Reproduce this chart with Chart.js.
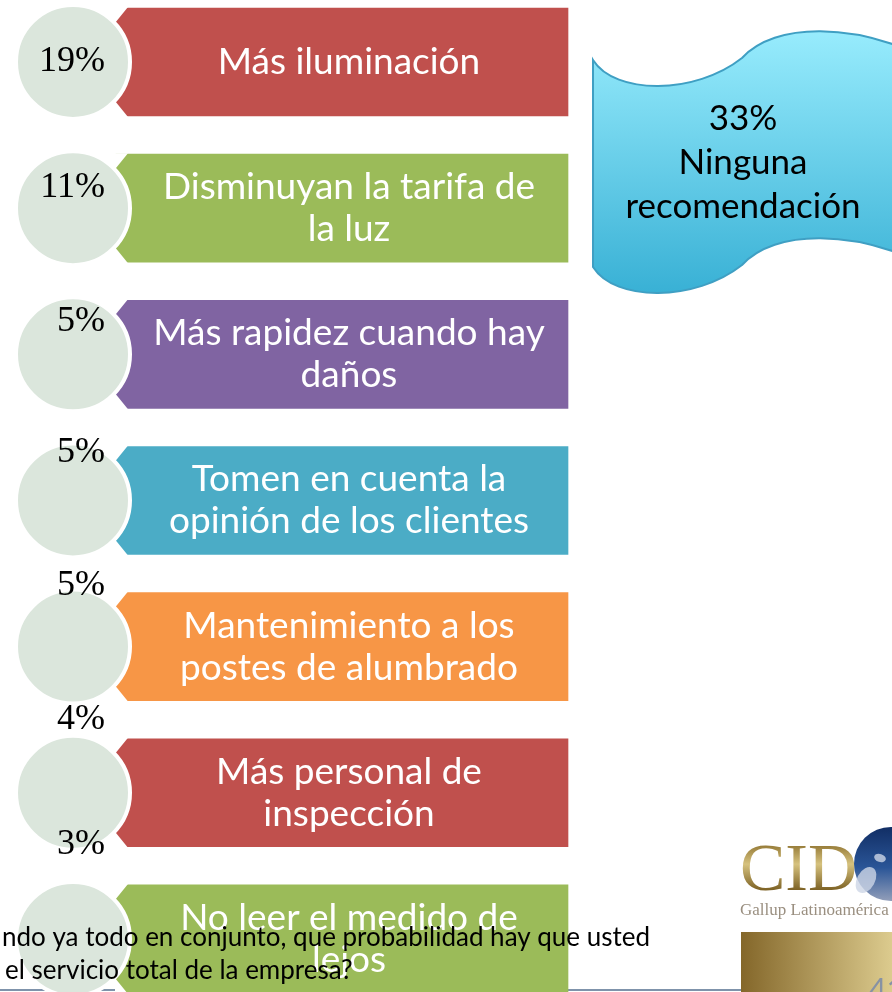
<!DOCTYPE html>
<html>
<head>
<meta charset="utf-8">
<script src="https://cdn.jsdelivr.net/npm/chart.js@4.4.0/dist/chart.umd.min.js"></script>
<style>
  html, body { margin: 0; padding: 0; background: #fff; }
  canvas { display: block; }
</style>
</head>
<body>
<canvas id="recomendaciones" width="892" height="992"></canvas>
<script>
// datos de la lámina
var recomendaciones = [
    ["Más iluminación"],
    ["Disminuyan la tarifa de", "la luz"],
    ["Más rapidez cuando hay", "daños"],
    ["Tomen en cuenta la", "opinión de los clientes"],
    ["Mantenimiento a los", "postes de alumbrado"],
    ["Más personal de", "inspección"],
    ["No leer el medido de", "lejos"]
];
var porcentajes = [19, 11, 5, 5, 5, 4, 3];
var ningunaPorcentaje = 33;
var ningunaTexto = ["Ninguna", "recomendación"];
var pregunta = ["ndo ya todo en conjunto, que probabilidad hay que usted", "el servicio total de la empresa?"];
var pagina = "41";

// colores y medidas (no son datos)
var colores = ["#c0504d", "#9bbb59", "#8064a2", "#4bacc6", "#f79646", "#c0504d", "#9bbb59"];
var desplazamientoEtiqueta = [0, -21, -33, -48, -61, -73, -94];
var bannerDesde = 116, bannerHasta = 568, circuloX = 73, textoX = 349;

function olaPath(ctx) {
    ctx.beginPath();
    ctx.moveTo(593, 60);
    ctx.bezierCurveTo(615, 95, 695, 95, 742, 58);
    ctx.bezierCurveTo(775, 22, 855, 22, 930, 60);
    ctx.lineTo(930, 267);
    ctx.bezierCurveTo(855, 229, 775, 229, 742, 265);
    ctx.bezierCurveTo(695, 302, 615, 302, 593, 267);
    ctx.closePath();
}

var decoracion = {
    id: 'decoracion',
    beforeDatasetsDraw: function (chart) {
        var ctx = chart.ctx;
        ctx.save();
        // linea inferior de la lamina
        ctx.strokeStyle = '#7f93ab';
        ctx.lineWidth = 2;
        ctx.beginPath();
        ctx.moveTo(0, 990);
        ctx.lineTo(892, 990);
        ctx.stroke();

        // cartel "ninguna recomendacion"
        var g = ctx.createLinearGradient(0, 30, 0, 300);
        g.addColorStop(0, '#98ecfd');
        g.addColorStop(1, '#36afd4');
        olaPath(ctx);
        ctx.fillStyle = g;
        ctx.fill();
        ctx.strokeStyle = '#3f9fc3';
        ctx.lineWidth = 2;
        ctx.stroke();

        // logo CID
        var oro = ctx.createLinearGradient(0, 843, 0, 890);
        oro.addColorStop(0, '#8f7330');
        oro.addColorStop(0.45, '#d6c27e');
        oro.addColorStop(1, '#7d6225');
        ctx.fillStyle = oro;
        ctx.font = '68px "Liberation Serif"';
        ctx.textBaseline = 'alphabetic';
        ctx.textAlign = 'left';
        ctx.fillText('CID', 740, 890);

        var globo = ctx.createLinearGradient(0, 828, 0, 900);
        globo.addColorStop(0, '#122f66');
        globo.addColorStop(0.55, '#2a5597');
        globo.addColorStop(1, '#8f9cb8');
        ctx.fillStyle = globo;
        ctx.beginPath();
        ctx.arc(891, 864, 37, 0, Math.PI * 2);
        ctx.fill();
        ctx.fillStyle = 'rgba(205,214,230,0.8)';
        ctx.beginPath();
        ctx.ellipse(866, 880, 9, 14, 0.5, 0, Math.PI * 2);
        ctx.fill();
        ctx.beginPath();
        ctx.ellipse(880, 858, 6, 4, 0.3, 0, Math.PI * 2);
        ctx.fill();

        ctx.fillStyle = '#9a8f80';
        ctx.font = '17px "Liberation Serif"';
        ctx.fillText('Gallup Latinoamérica', 740, 915);

        var caja = ctx.createLinearGradient(741, 0, 892, 0);
        caja.addColorStop(0, '#84672a');
        caja.addColorStop(1, '#dccb8e');
        ctx.fillStyle = caja;
        ctx.fillRect(741, 932, 151, 60);
        ctx.fillStyle = '#8792a4';
        ctx.font = '30px Lato';
        ctx.fillText(pagina, 869, 1000);
        ctx.restore();
    },
    afterDatasetsDraw: function (chart) {
        var ctx = chart.ctx;
        var xs = chart.scales.x, ys = chart.scales.y;
        ctx.save();

        // esquinas biseladas de los banners
        ctx.fillStyle = '#ffffff';
        chart.getDatasetMeta(1).data.forEach(function (bar) {
            var top = bar.y - bar.height / 2, bottom = bar.y + bar.height / 2, left = bar.base;
            ctx.beginPath();
            ctx.moveTo(left - 1, top - 1);
            ctx.lineTo(left + 12, top - 1);
            ctx.lineTo(left - 1, top + 15);
            ctx.closePath();
            ctx.fill();
            ctx.beginPath();
            ctx.moveTo(left - 1, bottom + 1);
            ctx.lineTo(left + 12, bottom + 1);
            ctx.lineTo(left - 1, bottom - 15);
            ctx.closePath();
            ctx.fill();
        });

        // textos de los banners
        ctx.fillStyle = '#ffffff';
        ctx.font = '37px Lato';
        ctx.textAlign = 'center';
        ctx.textBaseline = 'middle';
        recomendaciones.forEach(function (lineas, i) {
            var cy = ys.getPixelForValue(i);
            lineas.forEach(function (t, k) {
                ctx.fillText(t, xs.getPixelForValue(textoX), cy + (k - (lineas.length - 1) / 2) * 42);
            });
        });

        // porcentajes
        ctx.fillStyle = '#000000';
        ctx.font = '36px "Liberation Serif"';
        ctx.textAlign = 'right';
        porcentajes.forEach(function (p, i) {
            ctx.fillText(p + '%', 105, ys.getPixelForValue(i) + desplazamientoEtiqueta[i]);
        });

        // texto del cartel
        ctx.font = '35px Lato';
        ctx.textAlign = 'center';
        var lineasCartel = [ningunaPorcentaje + '%'].concat(ningunaTexto);
        lineasCartel.forEach(function (t, k) {
            ctx.fillText(t, 743, 119 + k * 44);
        });

        // pregunta que se cuela por abajo
        ctx.font = '26px Lato';
        ctx.textAlign = 'left';
        ctx.textBaseline = 'alphabetic';
        ctx.fillText(pregunta[0], 2, 946);
        ctx.fillText(pregunta[1], 5, 979);
        ctx.restore();
    }
};

new Chart(document.getElementById("recomendaciones"), {
    type: 'bar',
    data: {
        labels: recomendaciones.map(function (r) { return r.join(" "); }),
        datasets: [
            {
                type: 'scatter',
                label: 'porcentaje',
                data: porcentajes.map(function (p, i) { return { x: circuloX, y: i }; }),
                pointRadius: 57,
                pointBackgroundColor: '#dbe6dc',
                pointBorderColor: '#ffffff',
                pointBorderWidth: 4,
                order: 0,
                clip: false
            }, {
                type: 'bar',
                label: 'recomendación',
                indexAxis: 'y',
                data: recomendaciones.map(function (r, i) { return { x: [bannerDesde, bannerHasta], y: i }; }),
                backgroundColor: colores,
                barThickness: 108,
                order: 1
            }
        ]
    },
    options: {
        responsive: false,
        animation: false,
        devicePixelRatio: 1,
        events: [],
        layout: { padding: 0, autoPadding: false },
        scales: {
            x: { type: 'linear', min: 0, max: 892, offset: false, display: false },
            y: { type: 'linear', min: -0.424, max: 6.363, offset: false, reverse: true, display: false }
        },
        plugins: {
            legend: { display: false },
            tooltip: { enabled: false }
        }
    },
    plugins: [decoracion]
});
</script>
</body>
</html>
